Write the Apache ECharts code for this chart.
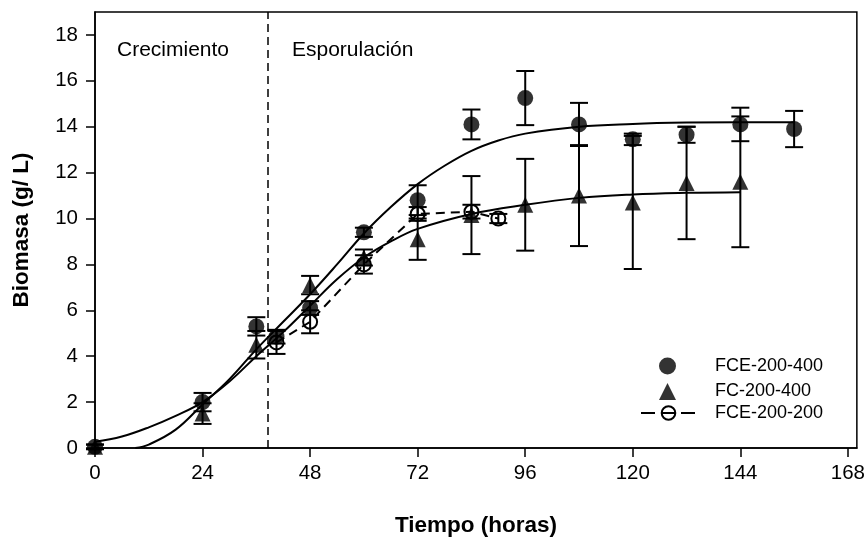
<!DOCTYPE html>
<html>
<head>
<meta charset="utf-8">
<script src="https://cdn.jsdelivr.net/npm/echarts@6/dist/echarts.min.js"></script>
<style>
  html, body { margin: 0; padding: 0; background: #fff; }
  #chart { width: 868px; height: 542px; }
</style>
</head>
<body>
<div id="chart"></div>
<script>
// Biomass (g/L) over time (hours) for three fermentation conditions
const timeFCE400 = [0, 24, 36, 40.5, 48, 60, 72, 84, 96, 108, 120, 132, 144, 156];
const biomassFCE400 = [0.05, 2.0, 5.3, 4.85, 6.1, 9.4, 10.8, 14.1, 15.25, 14.1, 13.45, 13.65, 14.1, 13.9];
const errFCE400 = [0.1, 0.4, 0.4, 0.3, 0.3, 0.2, 0.65, 0.65, 1.18, 0.94, 0.25, 0.35, 0.73, 0.79];

const timeFC400 = [0, 24, 36, 48, 60, 72, 84, 96, 108, 120, 132, 144];
const biomassFC400 = [0.05, 1.5, 4.5, 7.1, 8.3, 9.1, 10.15, 10.6, 11.0, 10.7, 11.55, 11.6];
const errFC400 = [0.1, 0.45, 0.6, 0.4, 0.35, 0.9, 1.7, 2.0, 2.2, 2.9, 2.45, 2.85];

const timeFCE200 = [40.5, 48, 60, 72, 84, 90];
const biomassFCE200 = [4.6, 5.5, 8.0, 10.2, 10.3, 10.0];
const errFCE200 = [0.5, 0.5, 0.4, 0.3, 0.3, 0.2];

// Fitted growth curves
const fitTimeFCE400 = [9, 12, 18, 24, 30, 36, 42, 48, 54, 60, 66, 72, 78, 84, 90, 96, 108, 120, 132, 144, 156];
const fitFCE400 = [0, 0.15, 0.8, 1.9, 3.0, 4.3, 5.5, 6.7, 8.0, 9.35, 10.5, 11.5, 12.3, 12.95, 13.4, 13.7, 14.0, 14.12, 14.18, 14.2, 14.2];
const fitTimeFC400 = [0, 6, 12, 18, 24, 30, 36, 42, 48, 54, 60, 66, 72, 84, 96, 108, 120, 132, 144];
const fitFC400 = [0.27, 0.5, 0.9, 1.4, 2.0, 2.9, 4.0, 5.05, 6.2, 7.35, 8.3, 9.0, 9.55, 10.2, 10.6, 10.9, 11.05, 11.12, 11.15];

// Boundary between growth and sporulation phases (hours)
const phaseBoundary = 38.5;
const phaseLabels = ['Crecimiento', 'Esporulación'];

const xTicks = [0, 24, 48, 72, 96, 120, 144, 168];
const yTicks = [0, 2, 4, 6, 8, 10, 12, 14, 16, 18];

const seriesNames = ['FCE-200-400', 'FC-200-400', 'FCE-200-200'];

const FONT = '"Liberation Sans", Arial, Helvetica, sans-serif';

function pairs(xs, ys) { return xs.map((x, i) => [x, ys[i]]); }
function bars(xs, ys, es) { return xs.map((x, i) => [x, ys[i] - es[i], ys[i] + es[i]]); }

function renderErrorBar(params, api) {
  const x = api.value(0);
  const lo = api.coord([x, api.value(1)]);
  const hi = api.coord([x, api.value(2)]);
  const hw = 9;
  const style = { stroke: '#000', lineWidth: 2 };
  return {
    type: 'group',
    children: [
      { type: 'line', shape: { x1: lo[0], y1: lo[1], x2: hi[0], y2: hi[1] }, style },
      { type: 'line', shape: { x1: lo[0] - hw, y1: lo[1], x2: lo[0] + hw, y2: lo[1] }, style },
      { type: 'line', shape: { x1: hi[0] - hw, y1: hi[1], x2: hi[0] + hw, y2: hi[1] }, style }
    ]
  };
}

const chart = echarts.init(document.getElementById('chart'), null, { renderer: 'canvas' });

const axisCommon = {
  axisLine: { show: true, lineStyle: { color: '#000', width: 1.5 } },
  axisTick: { show: true, inside: false, length: 9, lineStyle: { color: '#000', width: 1.5 } },
  splitLine: { show: false },
  nameTextStyle: { fontFamily: FONT, fontWeight: 'bold', fontSize: 22.5, color: '#000' }
};

const legendText = { fontSize: 18, color: '#000', fontFamily: FONT };

chart.setOption({
  animation: false,
  backgroundColor: '#fff',
  textStyle: { fontFamily: FONT },
  grid: {
    left: 95, right: 11, top: 12, bottom: 94,
    show: true, borderColor: '#000', borderWidth: 1.5, backgroundColor: 'transparent'
  },
  xAxis: Object.assign({}, axisCommon, {
    type: 'value', min: 0, max: 170,
    name: 'Tiempo (horas)', nameLocation: 'middle', nameGap: 66,
    axisTick: Object.assign({}, axisCommon.axisTick, { customValues: xTicks }),
    axisLabel: { customValues: xTicks, margin: 15, fontSize: 20.5, color: '#000', fontFamily: FONT }
  }),
  yAxis: Object.assign({}, axisCommon, {
    type: 'value', min: 0, max: 19,
    name: 'Biomasa (g/ L)', nameLocation: 'middle', nameGap: 62, nameRotate: 90,
    axisTick: Object.assign({}, axisCommon.axisTick, { customValues: yTicks }),
    axisLabel: { customValues: yTicks, margin: 17, fontSize: 20.5, color: '#000', fontFamily: FONT }
  }),
  legend: [
    {
      // marker-only entries
      orient: 'vertical', left: 654, top: 352,
      data: seriesNames.slice(0, 2),
      itemWidth: 17, itemHeight: 17, itemGap: 7.5,
      textStyle: Object.assign({ padding: [0, 0, 0, 34] }, legendText),
      selectedMode: false
    },
    {
      // line-with-marker entry
      orient: 'vertical', left: 635, top: 399,
      data: seriesNames.slice(2),
      itemWidth: 55, itemHeight: 17,
      textStyle: Object.assign({ padding: [0, 0, 0, 14] }, legendText),
      lineStyle: { type: [14, 6], width: 2 },
      selectedMode: false
    }
  ],
  graphic: [
    { type: 'text', x: 117, y: 50, style: { text: phaseLabels[0], font: '21px ' + FONT, fill: '#000', verticalAlign: 'middle' } },
    { type: 'text', x: 292, y: 50, style: { text: phaseLabels[1], font: '21px ' + FONT, fill: '#000', verticalAlign: 'middle' } }
  ],
  series: [
    {
      name: 'fit-FC-200-400', type: 'line', data: pairs(fitTimeFC400, fitFC400),
      smooth: 0.4, showSymbol: false, symbol: 'none', clip: true,
      lineStyle: { color: '#000', width: 2 }, z: 2,
      markLine: {
        silent: true, symbol: 'none', label: { show: false },
        lineStyle: { color: '#000', width: 1.5, type: [8, 5] },
        data: [{ xAxis: phaseBoundary }]
      }
    },
    {
      name: 'fit-FCE-200-400', type: 'line', data: pairs(fitTimeFCE400, fitFCE400),
      smooth: 0.4, showSymbol: false, symbol: 'none', clip: true,
      lineStyle: { color: '#000', width: 2 }, z: 2
    },
    {
      name: seriesNames[2], type: 'line', data: pairs(timeFCE200, biomassFCE200),
      symbol: 'circle', symbolSize: 14,
      itemStyle: { color: 'rgba(255,255,255,0)', borderColor: '#000', borderWidth: 2 },
      lineStyle: { color: '#000', width: 2, type: [9, 6] }, z: 3
    },
    {
      name: seriesNames[0], type: 'scatter', data: pairs(timeFCE400, biomassFCE400),
      symbol: 'circle', symbolSize: 16, itemStyle: { color: '#000' }, z: 4
    },
    {
      name: seriesNames[1], type: 'scatter', data: pairs(timeFC400, biomassFC400),
      symbol: 'triangle', symbolSize: 16, itemStyle: { color: '#000' }, z: 4
    },
    { name: 'err-FCE-200-400', type: 'custom', data: bars(timeFCE400, biomassFCE400, errFCE400), renderItem: renderErrorBar, encode: { x: 0, y: [1, 2] }, z: 5 },
    { name: 'err-FC-200-400', type: 'custom', data: bars(timeFC400, biomassFC400, errFC400), renderItem: renderErrorBar, encode: { x: 0, y: [1, 2] }, z: 5 },
    { name: 'err-FCE-200-200', type: 'custom', data: bars(timeFCE200, biomassFCE200, errFCE200), renderItem: renderErrorBar, encode: { x: 0, y: [1, 2] }, z: 5 }
  ]
});
</script>
</body>
</html>
